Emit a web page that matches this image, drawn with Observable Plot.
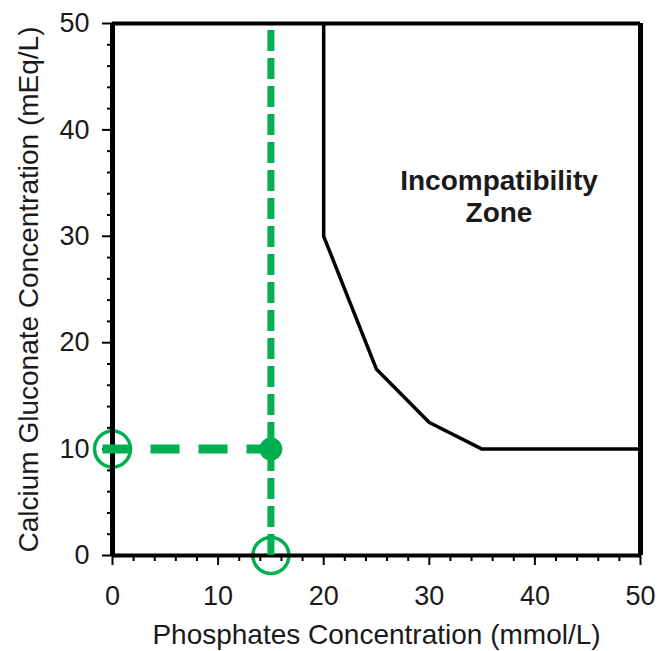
<!DOCTYPE html>
<html>
<head>
<meta charset="utf-8">
<script src="https://cdn.jsdelivr.net/npm/d3@7"></script>
<script src="https://cdn.jsdelivr.net/npm/@observablehq/plot@0.6"></script>
<style>
  html, body { margin: 0; padding: 0; background: #fff; }
  #chart { width: 658px; height: 651px; }
</style>
</head>
<body>
<div id="chart"></div>
<script>
// Tick values
const majorTicks = [0, 10, 20, 30, 40, 50];
const minorTicks = [2, 4, 6, 8, 12, 14, 16, 18, 22, 24, 26, 28, 32, 34, 36, 38, 42, 44, 46, 48];

// Incompatibility boundary (phosphates mmol/L, calcium mEq/L)
const boundaryPhosphate = [20, 20, 25, 30, 35, 50];
const boundaryCalcium   = [50, 30, 17.5, 12.5, 10, 10];

// Example point
const pointPhosphate = [15];
const pointCalcium = [10];
const hLineStart = [-0.9];   // dashed guide begins just left of the axis
const vLineTop = [50];

// Labels
const xLabel = "Phosphates Concentration (mmol/L)";
const yLabel = "Calcium Gluconate Concentration (mEq/L)";
const zoneLabel = ["Incompatibility", "Zone"];
const zoneX = [36.6, 36.6];
const zoneY = [35.2, 32.2];

const boundary = boundaryPhosphate.map((x, i) => ({x, y: boundaryCalcium[i]}));
const green = "#00b050";
const font = "'Liberation Sans', Arial, sans-serif";

const chart = Plot.plot({
  width: 658,
  height: 651,
  marginLeft: 112,
  marginRight: 18,
  marginTop: 23,
  marginBottom: 96,
  style: {fontFamily: font, fontSize: "26px", color: "#1a1a1a", background: "#fff"},
  x: {domain: [0, 50], axis: null},
  y: {domain: [0, 50], axis: null},
  marks: [
    // open circles on the axes
    Plot.dot([{x: 0, y: pointCalcium[0]}, {x: pointPhosphate[0], y: 0}], {
      x: "x", y: "y", r: 18, stroke: green, strokeWidth: 3.5, fill: "none"
    }),
    // frame lines
    Plot.ruleX([50], {stroke: "#000", strokeWidth: 5}),
    Plot.ruleY([50], {stroke: "#000", strokeWidth: 4}),
    Plot.ruleX([0], {stroke: "#000", strokeWidth: 5}),
    Plot.ruleY([0], {stroke: "#000", strokeWidth: 4}),
    // axes
    Plot.axisX(majorTicks, {label: null, tickSize: 10, tickPadding: 20, strokeWidth: 2, stroke: "#000", fontSize: 27, fill: "#1a1a1a"}),
    Plot.axisX(minorTicks, {label: null, tickSize: 6, text: null, strokeWidth: 2, stroke: "#000"}),
    Plot.axisY(majorTicks, {label: null, tickSize: 10, tickPadding: 13, strokeWidth: 2, stroke: "#000", fontSize: 27, fill: "#1a1a1a"}),
    Plot.axisY(minorTicks, {label: null, tickSize: 5, text: null, strokeWidth: 2, stroke: "#000"}),
    // boundary line
    Plot.line(boundary, {x: "x", y: "y", stroke: "#000", strokeWidth: 3.5, strokeLinejoin: "miter"}),
    // green dashed guides
    Plot.ruleX(pointPhosphate, {y1: 0, y2: vLineTop[0], stroke: green, strokeWidth: 7, strokeDasharray: "21,7"}),
    Plot.ruleY(pointCalcium, {x1: hLineStart[0], x2: pointPhosphate[0], stroke: green, strokeWidth: 9, strokeDasharray: "29,19"}),
    // filled point
    Plot.dot([{x: pointPhosphate[0], y: pointCalcium[0]}], {x: "x", y: "y", r: 11.5, fill: green, stroke: "none"}),
    // zone label
    Plot.text(zoneLabel, {x: (d, i) => zoneX[i], y: (d, i) => zoneY[i], text: d => d, fontWeight: "bold", fontSize: 28, fill: "#1a1a1a"}),
    // axis titles
    Plot.text([xLabel], {frameAnchor: "bottom", dy: 80, fontSize: 28, fill: "#1a1a1a", textAnchor: "middle", lineAnchor: "middle"}),
    Plot.text([yLabel], {frameAnchor: "left", dx: -83, rotate: -90, fontSize: 28, fill: "#1a1a1a", textAnchor: "middle", lineAnchor: "middle"})
  ]
});
document.getElementById("chart").appendChild(chart);
</script>
</body>
</html>
